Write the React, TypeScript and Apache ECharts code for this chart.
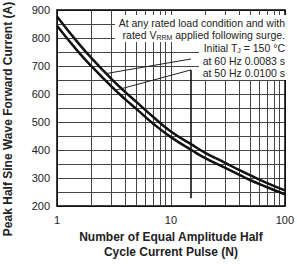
import React, { useEffect, useRef } from "react";
import * as echarts from "echarts";

// Surge pulses N (log axis) and the peak half-sine forward current in amperes
const pulses = [1, 1.5, 2, 3, 4, 5, 7, 10, 15, 20, 30, 40, 50, 70, 100];
const current60Hz = [877, 787, 729, 654, 606, 571, 518, 466, 421, 390, 354, 328, 309, 282, 256];
const current50Hz = [844, 756, 700, 627, 580, 546, 494, 446, 401, 371, 336, 311, 292, 267, 242];

// Minor decade gridlines 2..9, 20..90
const minorGrid = [2, 3, 4, 5, 6, 7, 8, 9, 20, 30, 40, 50, 60, 70, 80, 90];

// Leader lines from the curves to the notes, in data units
const leader60 = [[2.7, 673], [15, 725]];
const leader50 = [[3.25, 613], [15, 686]];
const dropLine = [[15, 686], [15, 228]];

const FONT = "'Liberation Sans', Arial, Helvetica, sans-serif";
const TXT = "#222";
const GRIDC = "#444";

export default function App() {
  const ref = useRef<HTMLDivElement>(null);

  useEffect(() => {
    if (!ref.current) return;
    const chart = echarts.init(ref.current, null, { renderer: "svg" });

    const pair = (xs: number[], ys: number[]) => xs.map((x, i) => [x, ys[i]]);
    const gap = current60Hz.map((v, i) => v - current50Hz[i]);

    const noteStyle = {
      fill: TXT,
      fontSize: 10.5,
      fontFamily: FONT,
      align: "right",
      verticalAlign: "middle",
      rich: {
        sub: { fontSize: 7, fontFamily: FONT, fill: TXT, verticalAlign: "bottom", padding: [5, 0, 0, 0] },
      },
    };

    const frameX = {
      type: "log",
      logBase: 10,
      min: 1,
      max: 100,
      position: "top",
      axisLine: { show: true, onZero: false, lineStyle: { color: "#000", width: 1.5 } },
      axisTick: { show: false },
      axisLabel: { show: false },
      splitLine: { show: false },
    };
    const frameY = {
      type: "value",
      min: 200,
      max: 900,
      interval: 50,
      position: "right",
      axisLine: { show: true, onZero: false, lineStyle: { color: "#000", width: 1.5 } },
      axisTick: { show: false },
      axisLabel: { show: false },
      splitLine: { show: false },
    };

    chart.setOption({
      animation: false,
      textStyle: { fontFamily: FONT },
      grid: { left: 57, top: 10, right: 5, bottom: 54 },
      xAxis: [
        {
          type: "log",
          logBase: 10,
          min: 1,
          max: 100,
          axisLine: { show: true, onZero: false, lineStyle: { color: "#000", width: 1.5 } },
          axisTick: { show: false },
          axisLabel: { color: TXT, fontSize: 11, margin: 8, fontFamily: FONT },
          splitLine: { show: true, lineStyle: { color: GRIDC, width: 1 } },
          name: "Number of Equal Amplitude Half\nCycle Current Pulse (N)",
          nameLocation: "middle",
          nameGap: 24,
          nameTextStyle: { fontWeight: "bold", fontSize: 12, lineHeight: 14.5, color: TXT, fontFamily: FONT },
        },
        frameX,
      ],
      yAxis: [
        {
          type: "value",
          min: 200,
          max: 900,
          interval: 50,
          axisLine: { show: true, lineStyle: { color: "#000", width: 1.5 } },
          axisTick: { show: false },
          axisLabel: {
            color: TXT,
            fontSize: 11,
            margin: 7,
            fontFamily: FONT,
            formatter: (v: number) => (v % 100 === 0 ? String(v) : ""),
          },
          splitLine: { show: true, lineStyle: { color: GRIDC, width: 1 } },
        },
        frameY,
      ],
      series: [
        {
          name: "band-base",
          type: "line",
          stack: "band",
          smooth: true,
          symbol: "none",
          z: 2,
          lineStyle: { width: 0, opacity: 0 },
          data: pair(pulses, current50Hz),
        },
        {
          name: "band-fill",
          type: "line",
          stack: "band",
          smooth: true,
          symbol: "none",
          z: 2,
          lineStyle: { width: 0, opacity: 0 },
          areaStyle: { color: "#fff", opacity: 1 },
          data: pair(pulses, gap),
        },
        {
          name: "60 Hz",
          type: "line",
          smooth: true,
          symbol: "none",
          z: 3,
          lineStyle: { color: "#111", width: 2.5 },
          data: pair(pulses, current60Hz),
          markLine: {
            silent: true,
            z: 1,
            symbol: ["none", "none"],
            label: { show: false },
            lineStyle: { color: GRIDC, width: 1, type: "solid" },
            data: minorGrid.map((v) => ({ xAxis: v })),
          },
        },
        {
          name: "50 Hz",
          type: "line",
          smooth: true,
          symbol: "none",
          z: 3,
          lineStyle: { color: "#111", width: 2.5 },
          data: pair(pulses, current50Hz),
          markLine: {
            silent: true,
            z: 4,
            symbol: ["none", "none"],
            label: { show: false },
            lineStyle: { color: "#222", width: 1, type: "solid" },
            data: [
              [{ coord: leader60[0] }, { coord: leader60[1] }],
              [{ coord: leader50[0] }, { coord: leader50[1] }],
              [{ coord: dropLine[0] }, { coord: dropLine[1], lineStyle: { width: 1.6, color: "#111" } }],
            ],
          },
        },
      ],
      graphic: [
        {
          type: "text",
          x: 8,
          y: 119,
          rotation: Math.PI / 2,
          style: {
            text: "Peak Half Sine Wave Forward Current (A)",
            fill: TXT,
            fontSize: 12,
            fontWeight: "bold",
            fontFamily: FONT,
            align: "center",
            verticalAlign: "middle",
          },
        },
        { type: "rect", z: 100, shape: { x: 115, y: 15, width: 173, height: 27 }, style: { fill: "#fff" } },
        { type: "rect", z: 100, shape: { x: 199, y: 42, width: 89, height: 38 }, style: { fill: "#fff" } },
        { type: "text", z: 101, x: 285, y: 23, style: { ...noteStyle, text: "At any rated load condition and with" } },
        { type: "text", z: 101, x: 285, y: 35, style: { ...noteStyle, text: "rated V{sub|RRM} applied following surge." } },
        { type: "text", z: 101, x: 285, y: 48, style: { ...noteStyle, text: "Initial T{sub|J} = 150 °C" } },
        { type: "text", z: 101, x: 285, y: 61, style: { ...noteStyle, text: "at 60 Hz 0.0083 s" } },
        { type: "text", z: 101, x: 285, y: 73, style: { ...noteStyle, text: "at 50 Hz 0.0100 s" } },
      ],
    });

    return () => chart.dispose();
  }, []);

  return (
    <div
      ref={ref}
      style={{ position: "fixed", left: 0, top: 0, width: 297, height: 264, background: "#fff" }}
    />
  );
}
